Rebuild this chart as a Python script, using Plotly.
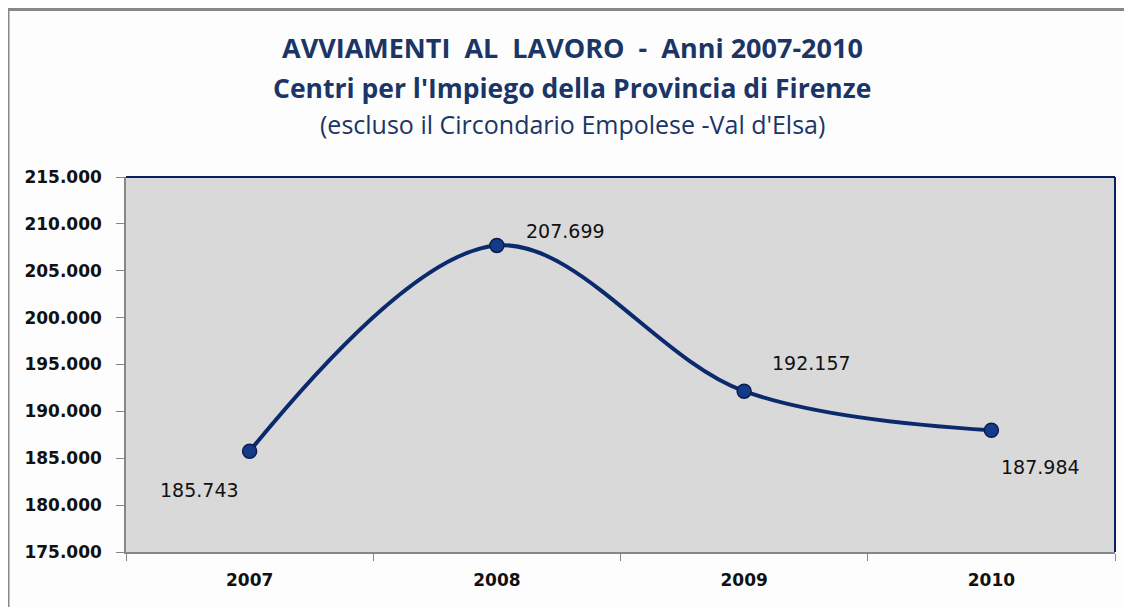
import plotly.graph_objects as go

# dati
anni = ["2007", "2008", "2009", "2010"]
avviamenti = [185743, 207699, 192157, 187984]
etichette = ["185.743", "207.699", "192.157", "187.984"]
# spostamento etichette (pixel) rispetto al punto
sposta_x = [-50, 69, 67, 49]
sposta_y = [-39, 14, 28, -37]

titolo_1 = "AVVIAMENTI  AL  LAVORO  -  Anni 2007-2010"
titolo_2 = "Centri per l'Impiego della Provincia di Firenze"
titolo_3 = "(escluso il Circondario Empolese -Val d'Elsa)"

BLU = "#0b2a6e"
GRIGIO = "#878787"

fig = go.Figure()
fig.add_trace(go.Scatter(
    x=anni,
    y=avviamenti,
    mode="lines+markers",
    line=dict(color=BLU, width=4, shape="spline", smoothing=1.0),
    marker=dict(size=14, color="#163a8a", line=dict(color="#0a1d4e", width=1.5)),
    hoverinfo="skip",
))

# etichette dei valori (x come indice di categoria)
for i, (v, t, dx, dy) in enumerate(zip(avviamenti, etichette, sposta_x, sposta_y)):
    fig.add_annotation(
        x=i, y=v, text=t, showarrow=False, xshift=dx, yshift=dy,
        font=dict(family="DejaVu Sans", size=19, color="#111111"),
    )

# la pagina ha 8px di margine: coordinate del riferimento meno 8
W, H = 1124, 599
L, R, T, B = 118, 17, 169, 55
pw, ph = W - L - R, H - T - B


def px_x(x):
    return (x - 8 - L) / pw


def px_y(y):
    return (H - B - (y - 8)) / ph


for testo, y, size, peso in [
    (titolo_1, 48, 27, "bold"),
    (titolo_2, 88, 26.5, "bold"),
    (titolo_3, 124, 25, "normal"),
]:
    fig.add_annotation(
        xref="paper", yref="paper", x=px_x(572), y=px_y(y),
        text=f"<b>{testo}</b>" if peso == "bold" else testo,
        showarrow=False, xanchor="center", yanchor="middle",
        font=dict(family="Open Sans", size=size, color="#1b3566"),
    )

# cornice esterna (solo sopra e a sinistra)
fig.add_shape(type="line", xref="paper", yref="paper",
              x0=px_x(8), x1=px_x(1140), y0=px_y(9.5), y1=px_y(9.5),
              line=dict(color=GRIGIO, width=3))
fig.add_shape(type="line", xref="paper", yref="paper",
              x0=px_x(8), x1=px_x(8), y0=px_y(9), y1=px_y(620),
              line=dict(color=GRIGIO, width=3))
# bordo superiore e destro dell'area del grafico
fig.add_shape(type="line", xref="paper", yref="paper",
              x0=0, x1=1, y0=1, y1=1, line=dict(color="#0a2060", width=2))
fig.add_shape(type="line", xref="paper", yref="paper",
              x0=1, x1=1, y0=0, y1=1, line=dict(color="#0a2060", width=2))

fig.update_layout(
    width=W, height=H,
    margin=dict(l=L, r=R, t=T, b=B),
    paper_bgcolor="#fdfdfd",
    plot_bgcolor="#d9d9d9",
    separators=",.",
    showlegend=False,
    font=dict(family="DejaVu Sans", color="#111111"),
)
fig.update_xaxes(
    type="category",
    range=[-0.5, 3.5],
    tickson="boundaries",
    ticks="outside", ticklen=7, tickcolor=GRIGIO, tickwidth=1,
    showline=True, linecolor=GRIGIO, linewidth=2,
    showgrid=False, zeroline=False,
    ticklabelstandoff=12,
    tickfont=dict(family="DejaVu Sans", size=17, color="#111111", weight="bold"),
)
fig.update_yaxes(
    range=[175000, 215000],
    tickvals=list(range(175000, 215001, 5000)),
    tickformat=",d",
    ticks="outside", ticklen=8, tickcolor=GRIGIO, tickwidth=1,
    showline=True, linecolor=GRIGIO, linewidth=1.5,
    showgrid=False, zeroline=False,
    ticklabelstandoff=11,
    tickfont=dict(family="DejaVu Sans", size=17, color="#111111", weight="bold"),
)

fig.write_html("out.html")
